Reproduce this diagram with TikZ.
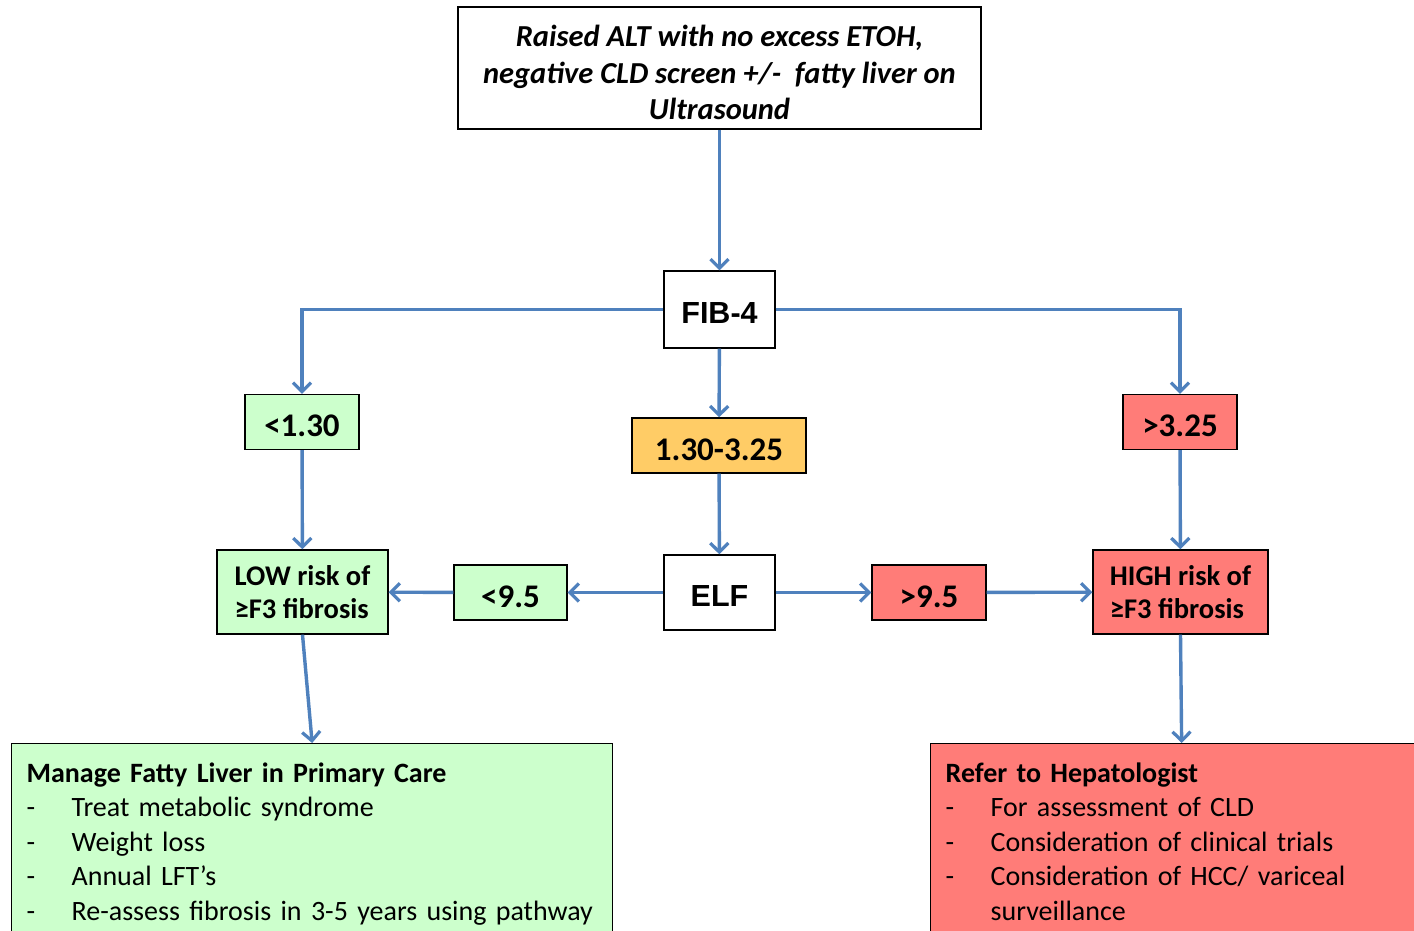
\documentclass[tikz,border=0pt]{standalone}
\usepackage{fontspec}
\setmainfont{Carlito}
\newfontfamily\arialfont{Liberation Sans}
\usetikzlibrary{arrows.meta}

\definecolor{linkblue}{RGB}{79,129,189}
\definecolor{lowgreen}{RGB}{204,255,204}
\definecolor{midorange}{RGB}{255,204,102}
\definecolor{highred}{RGB}{255,124,120}

\begin{document}
\begin{tikzpicture}[x=1pt, y=-1pt,
	every node/.style={rectangle, draw=black, line width=1.3pt, inner sep=0pt, align=center},
	every edge/.style={draw=linkblue, line width=3.4pt, -{Straight Barb[length=9pt, width=18pt, line width=3.2pt]}},
	elbow/.style={to path={-| (\tikztotarget)}},
	cut/.style={minimum height=55pt, text height=29pt, text depth=0pt, font=\fontsize{33}{36}\selectfont\bfseries},
	risk/.style={minimum height=84pt, align=left, font=\fontsize{28.5}{33}\selectfont\bfseries},
	test/.style={fill=white, text height=28pt, text depth=0pt, font=\arialfont\fontsize{30.5}{33}\selectfont\bfseries},
	plan/.style={anchor=north west, align=left, inner xsep=15pt, inner ysep=19pt, font=\fontsize{28}{34.5}\selectfont}]
			\clip (0,0) rectangle (1414,930);
			\fill[white] (0,0) rectangle (1414,930);
			
			\node[minimum width=523pt, minimum height=122pt, font=\fontsize{30.5}{36.5}\selectfont\bfseries\itshape] (top) at (719.5,68)
				{\rule{0pt}{31pt}Raised ALT with no excess ETOH,\\negative CLD screen +/-\ \ fatty liver on\\Ultrasound};
			\node[test, minimum width=111pt, minimum height=77pt] (fib) at (719.5,309.5){FIB-4};
			
			\node[cut, fill=lowgreen, minimum width=114pt] (lowcut) at (302,422){<1.30};
			\node[cut, fill=midorange, minimum width=174pt] (midcut) at (719,445.5){1.30-3.25};
			\node[cut, fill=highred, minimum width=114pt] (highcut) at (1180,422){>3.25};
			
			\node[test, minimum width=111pt, minimum height=75pt] (elf) at (719.5,592.5){ELF};
			\node[cut, fill=lowgreen, minimum width=113pt] (elflow) at (510.5,592.5){<9.5};
			\node[cut, fill=highred, minimum width=114pt] (elfhigh) at (929,592.5){>9.5};
			\node[risk, fill=lowgreen, minimum width=171pt] (lowrisk) at (302.5,592){LOW risk of\\≥F3 fibrosis};
			\node[risk, fill=highred, minimum width=175pt] (highrisk) at (1180.5,592){HIGH risk of\\≥F3 fibrosis};
			
			\node[plan, fill=lowgreen, text width=571pt] (care) at (11,743)
				{\textbf{Manage Fatty Liver in Primary Care}\\
				\makebox[45pt][l]{-}Treat metabolic syndrome\\
				\makebox[45pt][l]{-}Weight loss\\
				\makebox[45pt][l]{-}Annual LFT’s\\
				\makebox[45pt][l]{-}Re-assess fibrosis in 3-5 years using pathway};
			\node[plan, fill=highred, text width=472pt] (refer) at (930,743)
				{\textbf{Refer to Hepatologist}\\
				\makebox[45pt][l]{-}For assessment of CLD\\
				\makebox[45pt][l]{-}Consideration of clinical trials\\
				\makebox[45pt][l]{-}Consideration of HCC/ variceal\\
				\hspace*{45pt}surveillance};
			
			\path (top) edge (fib);
			\path (fib) edge (midcut);
			\path (midcut) edge (elf);
			\path (fib.west) edge[elbow] (lowcut.north);
			\path (fib.east) edge[elbow] (highcut.north);
			\path (lowcut) edge (lowrisk);
			\path (highcut) edge (highrisk);
			\path (elf) edge (elflow);
			\path (elflow) edge (lowrisk);
			\path (elf) edge (elfhigh);
			\path (elfhigh) edge (highrisk);
			\path (lowrisk.south) edge (care.north);
			\path (highrisk.south) edge (refer.north);
\end{tikzpicture}
\end{document}
